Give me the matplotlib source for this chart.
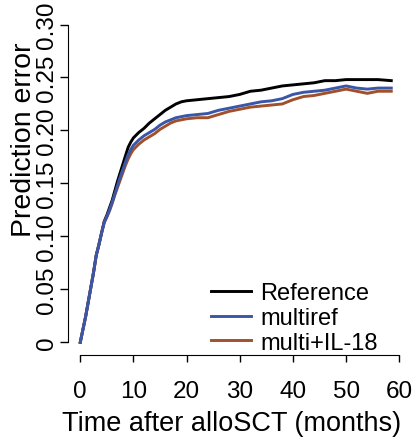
import matplotlib
matplotlib.use("Agg")
import matplotlib.pyplot as plt

plt.rcParams['font.family'] = ['Liberation Sans', 'DejaVu Sans']

# Time grid (months)
time = [0, 0.5, 1, 1.5, 2, 2.5, 3, 3.5, 4, 4.5, 5, 5.5, 6, 6.5, 7, 7.5, 8, 8.5, 9, 9.5,
        10, 11, 12, 13, 14, 15, 16, 17, 18, 19, 20, 22, 24, 26, 28, 30, 32, 34, 36, 38,
        40, 42, 44, 46, 48, 50, 52, 54, 56, 58.5]

reference = [0, 0.012, 0.024, 0.038, 0.052, 0.066, 0.082, 0.092, 0.103, 0.114, 0.120, 0.127,
             0.134, 0.143, 0.152, 0.160, 0.168, 0.176, 0.184, 0.189, 0.193, 0.198, 0.202,
             0.207, 0.211, 0.215, 0.219, 0.222, 0.225, 0.227, 0.228, 0.229, 0.230, 0.231,
             0.232, 0.234, 0.237, 0.238, 0.240, 0.242, 0.243, 0.244, 0.245, 0.247, 0.247,
             0.248, 0.248, 0.248, 0.248, 0.247]

multiref = [0, 0.012, 0.024, 0.038, 0.052, 0.066, 0.082, 0.092, 0.103, 0.113, 0.119, 0.125,
            0.132, 0.140, 0.148, 0.156, 0.163, 0.170, 0.177, 0.182, 0.186, 0.191, 0.195,
            0.198, 0.201, 0.205, 0.208, 0.210, 0.212, 0.213, 0.214, 0.215, 0.216, 0.219,
            0.221, 0.223, 0.225, 0.227, 0.228, 0.230, 0.234, 0.236, 0.237, 0.238, 0.240,
            0.242, 0.240, 0.239, 0.240, 0.240]

multi_il18 = [0, 0.012, 0.024, 0.038, 0.052, 0.066, 0.082, 0.092, 0.103, 0.113, 0.118, 0.124,
              0.131, 0.139, 0.146, 0.153, 0.160, 0.167, 0.173, 0.178, 0.182, 0.187, 0.191,
              0.194, 0.197, 0.201, 0.204, 0.207, 0.209, 0.210, 0.211, 0.212, 0.212, 0.215,
              0.218, 0.220, 0.222, 0.223, 0.224, 0.225, 0.229, 0.232, 0.233, 0.235, 0.237,
              0.239, 0.237, 0.235, 0.237, 0.237]

labels = ["Reference", "multiref", "multi+IL-18"]
colors = ["#000000", "#3a56a8", "#a0502a"]
zorders = [2, 4, 3]

xticks = [0, 10, 20, 30, 40, 50, 60]
yticks = [0, 0.05, 0.10, 0.15, 0.20, 0.25, 0.30]
yticklabels = ["0", "0.05", "0.10", "0.15", "0.20", "0.25", "0.30"]

W, H = 419, 439
fig = plt.figure(figsize=(W / 100, H / 100), dpi=100)
ax = fig.add_axes([67.5 / W, (H - 356) / H, (412 - 67.5) / W, (356 - 12.8) / H])

for ys, lab, c, z in zip([reference, multiref, multi_il18], labels, colors, zorders):
    ax.plot(time, ys, color=c, lw=2.1, label=lab, zorder=z)

ax.set_xlim(-2.4, 62.4)
ax.set_ylim(-0.012, 0.312)
for s in ['top', 'right']:
    ax.spines[s].set_visible(False)
ax.spines['bottom'].set_bounds(0, 60)
ax.spines['left'].set_bounds(0, 0.30)

fs = 17.5
ax.set_xticks(xticks)
ax.set_xticklabels([str(v) for v in xticks], fontsize=fs)
ax.set_yticks(yticks)
ax.set_yticklabels(yticklabels, fontsize=fs, rotation=90, va='center')
ax.tick_params(axis='x', length=5, width=1, pad=13)
ax.tick_params(axis='y', length=5.5, width=1, pad=1.5)

fig.text(232 / W, 1 - 431 / H, "Time after alloSCT (months)", fontsize=19.5,
         ha='center', va='baseline')
fig.text(31 / W, 1 - 140 / H, "Prediction error", fontsize=20.5, rotation=90,
         rotation_mode='anchor', ha='center', va='baseline')

leg = ax.legend(loc='upper left', bbox_to_anchor=(211 / W, 1 - 283 / H),
                bbox_transform=fig.transFigure, frameon=False, fontsize=17,
                handlelength=1.7, handletextpad=0.4, labelspacing=0.12,
                borderaxespad=0, borderpad=0)

fig.savefig("out.png", dpi=100)
